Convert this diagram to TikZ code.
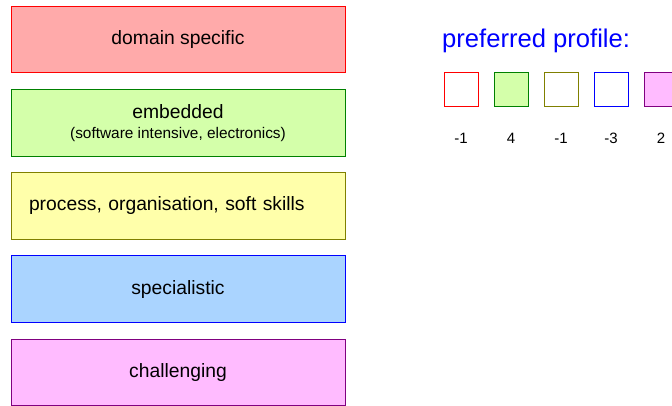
\documentclass[tikz,border=0pt]{standalone}
\usepackage{fontspec}
\setmainfont{Liberation Sans}
\usepackage{xcolor}
\usetikzlibrary{positioning}

\definecolor{domfill}{HTML}{FFAAAA}
\definecolor{embfill}{HTML}{D4FFAA}
\definecolor{procfill}{HTML}{FFFFAA}
\definecolor{specfill}{HTML}{AAD4FF}
\definecolor{chalfill}{HTML}{FFBBFF}
\definecolor{embline}{HTML}{008000}
\definecolor{procline}{HTML}{808000}
\definecolor{challine}{HTML}{800080}

\begin{document}
\begin{tikzpicture}[
    x=1pt, y=-1pt,
    node distance=16.7pt,
    area/.style={rectangle, draw, line width=0.9pt, minimum width=334pt, minimum height=66.5pt, inner sep=0pt, outer sep=0pt, font=\fontsize{19.3}{22}\selectfont, align=center},
    profbox/.style={rectangle, draw, line width=0.9pt, minimum width=34pt, minimum height=34pt, inner sep=0pt, outer sep=0pt},
    score/.style={inner sep=0pt, font=\fontsize{15}{18}\selectfont}
]
\useasboundingbox (0,0) rectangle (672,405);

\node[area, draw=red, fill=domfill] (domain) at (178,39.5) {domain specific};
\node[area, draw=embline, fill=embfill, below=of domain] (embedded) {\raisebox{-2pt}{embedded}\\[0pt]{\fontsize{15.4}{18}\selectfont (software intensive, electronics)}};
\node[area, draw=procline, fill=procfill, text width=298pt, align=left, below=of embedded] (process) {process, organisation, soft skills};
\node[area, draw=blue, fill=specfill, below=of process] (special) {specialistic};
\node[area, draw=challine, fill=chalfill, below=of special] (challenge) {challenging};

\node[anchor=base west, inner sep=0pt, text=blue, font=\fontsize{25.6}{30}\selectfont] (title) at (442,47) {preferred profile:};

\node[profbox, draw=red, fill=white] (pdomain) at (461,89.5) {};
\node[profbox, draw=embline, fill=embfill, right=of pdomain.east, anchor=west, xshift=-0.7pt] (pembedded) {};
\node[profbox, draw=procline, fill=white, right=of pembedded.east, anchor=west, xshift=-0.7pt] (pprocess) {};
\node[profbox, draw=blue, fill=white, right=of pprocess.east, anchor=west, xshift=-0.7pt] (pspecial) {};
\node[profbox, draw=challine, fill=chalfill, right=of pspecial.east, anchor=west, xshift=-0.7pt] (pchallenge) {};

\node[score, below=32pt of pdomain.south, anchor=center] (sdomain) {-1};
\node[score, below=32pt of pembedded.south, anchor=center] (sembedded) {4};
\node[score, below=32pt of pprocess.south, anchor=center] (sprocess) {-1};
\node[score, below=32pt of pspecial.south, anchor=center] (sspecial) {-3};
\node[score, below=32pt of pchallenge.south, anchor=center] (schallenge) {2};

\end{tikzpicture}
\end{document}
